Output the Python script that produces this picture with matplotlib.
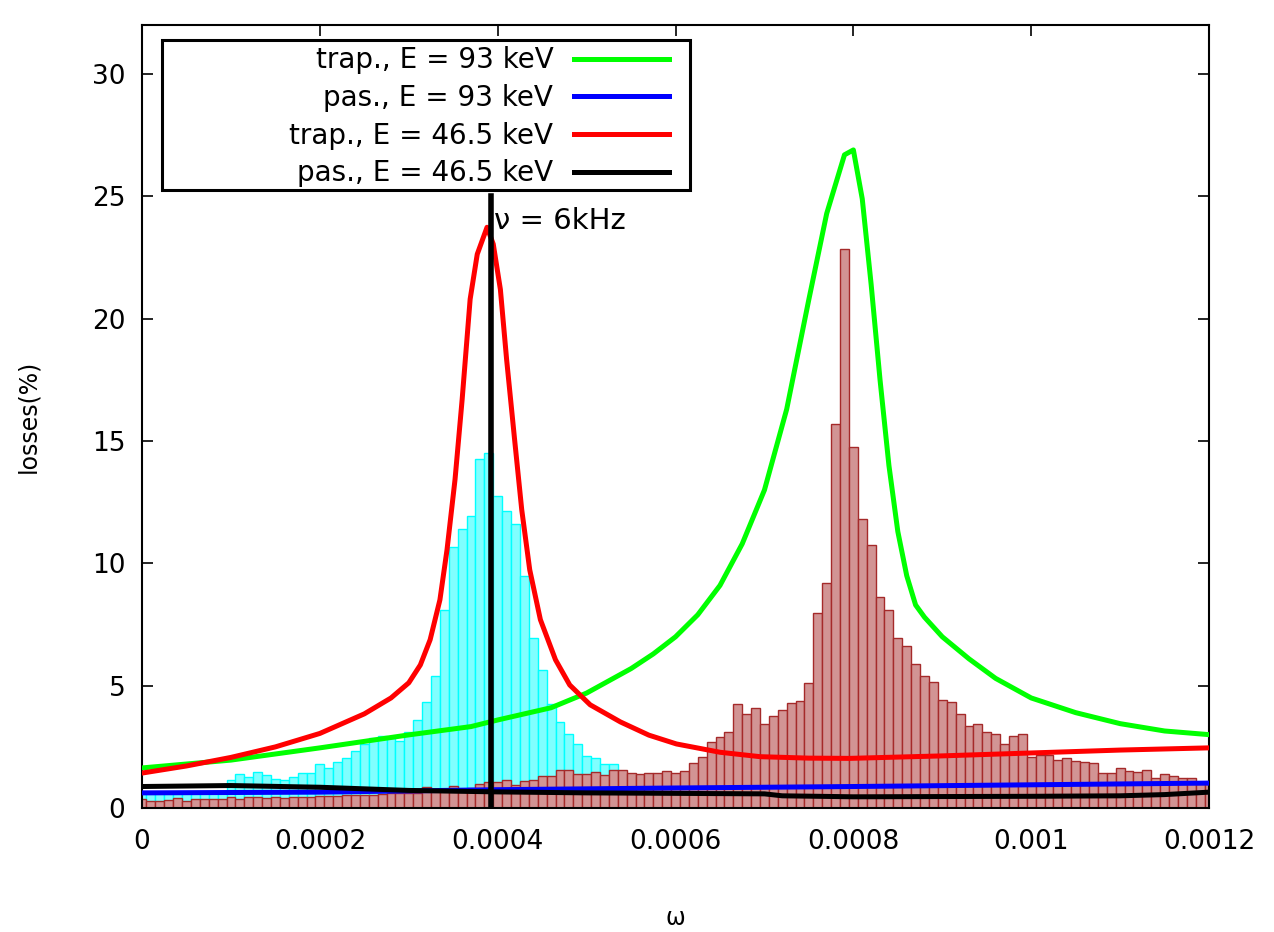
import numpy as np
import matplotlib
matplotlib.use("Agg")
import matplotlib.pyplot as plt
from matplotlib.patches import Rectangle

plt.rcParams['font.family'] = ['DejaVu Sans']

# ---------------- data ----------------
bin_width = 1e-5
# histogram (brown): centres at k*1e-5, k = 0..120
brown_heights = [
    0.37, 0.30, 0.30, 0.33, 0.40, 0.30, 0.37, 0.37, 0.37, 0.37,
    0.44, 0.37, 0.46, 0.46, 0.40, 0.44, 0.40, 0.44, 0.46, 0.44,
    0.50, 0.50, 0.50, 0.52, 0.55, 0.55, 0.55, 0.58, 0.60, 0.60,
    0.62, 0.62, 0.87, 0.70, 0.70, 0.90, 0.75, 0.80, 0.97, 1.06,
    1.05, 1.15, 0.94, 1.12, 1.15, 1.31, 1.31, 1.56, 1.56, 1.38,
    1.38, 1.46, 1.35, 1.56, 1.56, 1.45, 1.38, 1.45, 1.45, 1.53,
    1.45, 1.53, 1.86, 2.10, 2.69, 2.92, 3.10, 4.24, 3.85, 4.08,
    3.44, 3.77, 4.00, 4.28, 4.36, 5.12, 7.97, 9.19, 15.68, 22.85,
    14.76, 11.83, 10.75, 8.61, 8.10, 6.97, 6.63, 5.89, 5.40, 5.14,
    4.42, 4.32, 3.83, 3.36, 3.44, 3.12, 3.03, 2.62, 2.95, 3.03,
    2.10, 2.15, 2.15, 1.97, 2.03, 1.94, 1.90, 1.86, 1.45, 1.45,
    1.62, 1.53, 1.49, 1.56, 1.21, 1.39, 1.31, 1.21, 1.21, 1.00,
    1.00,
]
# histogram (cyan): centres at k*1e-5, k = 0..53
cyan_heights = [
    0.65, 0.65, 0.65, 0.65, 0.65, 0.65, 0.65, 0.65, 0.65, 0.65,
    1.15, 1.38, 1.28, 1.46, 1.35, 1.19, 1.15, 1.28, 1.45, 1.45,
    1.79, 1.62, 1.88, 2.05, 2.35, 2.60, 2.87, 2.94, 2.87, 2.75,
    3.10, 3.58, 4.33, 5.40, 8.10, 10.67, 11.41, 11.95, 14.25, 14.52,
    12.77, 12.13, 11.63, 9.50, 6.95, 5.65, 4.24, 3.50, 3.03, 2.62,
    2.13, 2.03, 1.80, 1.80,
]

# curves (omega in units of 1e-5, losses %)
trap93_x = [0, 10, 20, 30, 37, 40, 46, 50, 55, 57.5, 60, 62.5, 65, 67.5, 70, 72.5, 75, 77, 79, 80,
            81, 82, 83, 84, 85, 86, 87, 88, 90, 93, 96, 100, 105, 110, 115, 120]
trap93_y = [1.64, 1.96, 2.46, 2.99, 3.33, 3.6, 4.1, 4.7, 5.7, 6.3, 7.0, 7.9, 9.1, 10.8, 13.0, 16.3, 20.8, 24.3, 26.7, 26.9,
            24.9, 21.4, 17.5, 14.0, 11.3, 9.5, 8.3, 7.8, 7.0, 6.1, 5.3, 4.5, 3.9, 3.45, 3.15, 3.0]

pas93_x = [0, 20, 40, 60, 80, 100, 120]
pas93_y = [0.62, 0.65, 0.75, 0.82, 0.88, 0.95, 1.02]

trap46_x = [0, 5, 10, 15, 20, 25, 28, 30, 31.3, 32.4, 33.5, 34.3, 35.2, 36.0, 36.9, 37.7, 38.8, 39.5, 40.3,
            41.0, 41.9, 42.7, 43.6, 44.8, 46.5, 48.1, 50.4, 53.8, 57, 60.1, 65, 69.5, 75, 79.6, 89.8, 99.9, 110, 120]
trap46_y = [1.43, 1.72, 2.07, 2.5, 3.05, 3.85, 4.5, 5.12, 5.85, 6.88, 8.51, 10.56, 13.43, 16.7, 20.8, 22.64, 23.74, 23.05, 21.2,
            18.34, 15.06, 12.2, 9.74, 7.7, 6.06, 5.03, 4.22, 3.52, 2.98, 2.62, 2.28, 2.1, 2.04, 2.03, 2.13, 2.25, 2.37, 2.46]

pas46_x = [0, 10, 20, 30, 40, 50, 60, 70, 72, 80, 90, 100, 110, 115, 120]
pas46_y = [0.88, 0.92, 0.85, 0.72, 0.66, 0.62, 0.6, 0.58, 0.5, 0.46, 0.47, 0.48, 0.5, 0.55, 0.65]

labels = ["trap., E = 93 keV", "pas., E = 93 keV", "trap., E = 46.5 keV", "pas., E = 46.5 keV"]
x_ticks = [0, 0.0002, 0.0004, 0.0006, 0.0008, 0.001, 0.0012]
x_ticklabels = ["0", "0.0002", "0.0004", "0.0006", "0.0008", "0.001", "0.0012"]
y_ticks = [0, 5, 10, 15, 20, 25, 30]
nu_omega = 0.000393
nu_top = 25

# ---------------- figure ----------------
fig = plt.figure(figsize=(12.74, 9.32), dpi=100)
ax = fig.add_axes([0.1115, 0.133, 0.8375, 0.840])

scale = 1e-5
cx = np.arange(len(cyan_heights)) * bin_width
bx = np.arange(len(brown_heights)) * bin_width
ax.bar(cx, cyan_heights, width=bin_width, align='center', facecolor='#80ffff',
       edgecolor='#00ffff', linewidth=1.0, zorder=1)
ax.bar(bx, brown_heights, width=bin_width, align='center', facecolor='#d29494',
       edgecolor='#a52a2a', linewidth=1.0, zorder=2)

lw = 3.6
l1, = ax.plot(np.array(trap93_x) * scale, trap93_y, color='#00ff00', lw=lw, zorder=3)
l2, = ax.plot(np.array(pas93_x) * scale, pas93_y, color='#0000ff', lw=lw, zorder=3)
l3, = ax.plot(np.array(trap46_x) * scale, trap46_y, color='#ff0000', lw=lw, zorder=3)
l4, = ax.plot(np.array(pas46_x) * scale, pas46_y, color='black', lw=lw, zorder=3)

ax.plot([nu_omega, nu_omega], [0, nu_top], color='black', lw=4, zorder=4)
ax.text(nu_omega + 0.000003, 24.0, "\u03bd = 6kHz", fontsize=21, ha='left', va='center', zorder=5)

ax.set_xlim(0, 0.0012)
ax.set_ylim(0, 32)
ax.set_xticks(x_ticks)
ax.set_xticklabels(x_ticklabels)
ax.set_yticks(y_ticks)
ax.tick_params(direction='in', length=8, width=1.2, top=True, right=True,
               labelsize=19, pad=12, colors='black')
ax.tick_params(axis='x', pad=15)
for s in ax.spines.values():
    s.set_linewidth(1.5)

ax.set_xlabel("\u03c9", fontsize=17, labelpad=37)
ax.set_ylabel("losses(%)", fontsize=17, labelpad=37)

# legend box (fixed frame) and entries
ax.add_patch(Rectangle((0.0187, 0.789), 0.4949, 0.192, transform=ax.transAxes,
                       facecolor='white', edgecolor='black', linewidth=2.2, zorder=6))
leg = ax.legend([l1, l2, l3, l4], labels, loc='upper right', bbox_to_anchor=(0.4935, 0.973),
                markerfirst=False, fontsize=20, handlelength=3.4, handletextpad=0.75,
                labelspacing=0.35, borderpad=0.0, borderaxespad=0.0, frameon=False)
for t in leg.get_texts():
    t.set_ha('right')
leg.set_zorder(7)

fig.savefig("out.png", dpi=100)
